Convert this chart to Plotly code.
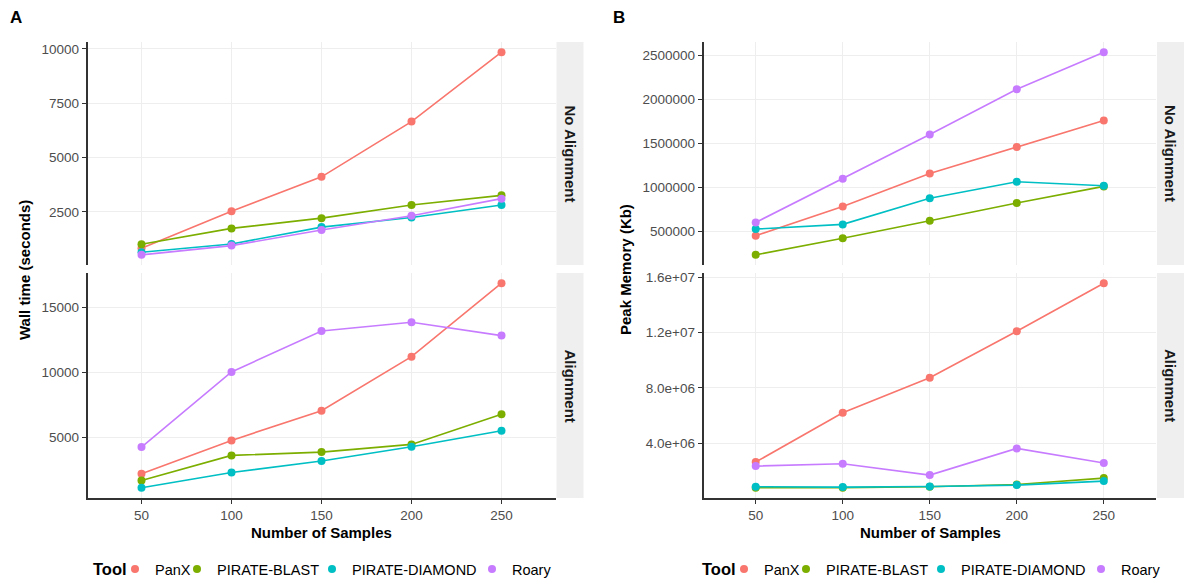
import plotly.graph_objects as go

W, H = 1184, 581

samples = [50, 100, 150, 200, 250]
tools = ["PanX", "PIRATE-BLAST", "PIRATE-DIAMOND", "Roary"]
colors = ["#F8766D", "#7CAE00", "#00BFC4", "#C77CFF"]

# Panel A: wall time (seconds)
time_noaln_panx = [825, 2529, 4112, 6653, 9848]
time_noaln_blast = [1008, 1738, 2210, 2818, 3260]
time_noaln_diamond = [643, 1023, 1799, 2240, 2818]
time_noaln_roary = [521, 947, 1662, 2317, 3108]

time_aln_panx = [2231, 4795, 7077, 11231, 16872]
time_aln_blast = [1718, 3641, 3897, 4487, 6795]
time_aln_diamond = [1154, 2333, 3205, 4308, 5538]
time_aln_roary = [4282, 10051, 13205, 13872, 12846]

# Panel B: peak memory (Kb)
mem_noaln_panx = [455000, 785000, 1160000, 1461000, 1761000]
mem_noaln_blast = [237000, 425000, 624000, 826000, 1014000]
mem_noaln_diamond = [530000, 583000, 879000, 1067000, 1022000]
mem_noaln_roary = [605000, 1100000, 1603000, 2117000, 2538000]

mem_aln_panx = [2619000, 6200000, 8741000, 12104000, 15589000]
mem_aln_blast = [755000, 755000, 828000, 997000, 1457000]
mem_aln_diamond = [828000, 804000, 852000, 949000, 1239000]
mem_aln_roary = [2328000, 2498000, 1675000, 3610000, 2546000]

time_ticks_noaln = [2500, 5000, 7500, 10000]
time_ticks_noaln_text = ["2500", "5000", "7500", "10000"]
time_ticks_aln = [5000, 10000, 15000]
time_ticks_aln_text = ["5000", "10000", "15000"]
mem_ticks_noaln = [500000, 1000000, 1500000, 2000000, 2500000]
mem_ticks_noaln_text = ["500000", "1000000", "1500000", "2000000", "2500000"]
mem_ticks_aln = [4000000, 8000000, 12000000, 16000000]
mem_ticks_aln_text = ["4.0e+06", "8.0e+06", "1.2e+07", "1.6e+07"]

FONT = "Liberation Sans, Arial, sans-serif"
AXC = "#333333"
GRID = "#EEEEEE"
TICKC = "#4D4D4D"


def px(x):
    return x / W


def py(y):
    return 1 - y / H


def erange(series):
    lo = min(min(s) for s in series)
    hi = max(max(s) for s in series)
    span = hi - lo
    return [lo - 0.05 * span, hi + 0.05 * span]


fig = go.Figure()

panels = [
    ("x3", "y", [time_noaln_panx, time_noaln_blast, time_noaln_diamond, time_noaln_roary]),
    ("x", "y2", [time_aln_panx, time_aln_blast, time_aln_diamond, time_aln_roary]),
    ("x4", "y3", [mem_noaln_panx, mem_noaln_blast, mem_noaln_diamond, mem_noaln_roary]),
    ("x2", "y4", [mem_aln_panx, mem_aln_blast, mem_aln_diamond, mem_aln_roary]),
]

for xa, ya, series in panels:
    for name, col, vals in zip(tools, colors, series):
        fig.add_trace(go.Scatter(
            x=samples, y=vals, xaxis=xa, yaxis=ya, mode="lines+markers",
            line=dict(color=col, width=1.6), marker=dict(color=col, size=8),
            name=name, showlegend=False, hoverinfo="skip"))

# legend entries: one small legend per key so the spacing can follow the original
legend_title_x = [93, 702]
legend_dot_offsets = [46, 108, 243, 403]
LEG_Y = 569
SYM_OFF = 20  # distance from legend left edge to the key dot centre

legend_layouts = {}
k = 0
for panel_i, tx in enumerate(legend_title_x):
    for name, col, off in zip(tools, colors, legend_dot_offsets):
        k += 1
        lname = "legend" if k == 1 else "legend%d" % k
        fig.add_trace(go.Scatter(
            x=[None], y=[None], mode="markers", marker=dict(color=col, size=8),
            name=name, legend=lname, showlegend=True, xaxis="x", yaxis="y2"))
        legend_layouts[lname] = dict(
            x=px(tx + off - 4 - SYM_OFF), y=py(LEG_Y), xanchor="left", yanchor="middle",
            orientation="h", bgcolor="rgba(0,0,0,0)", itemwidth=30,
            font=dict(family=FONT, size=14.5, color="black"))

xr = [20, 280]
common_x = dict(range=xr, tickvals=samples, showgrid=True, gridcolor=GRID, gridwidth=1,
                zeroline=False)
xfont = dict(family=FONT, size=13.5, color=TICKC)
common_y = dict(showgrid=True, gridcolor=GRID, gridwidth=1, zeroline=False,
                showline=True, linecolor=AXC, linewidth=1.6, ticks="outside",
                ticklen=4, tickcolor=AXC, tickwidth=1.2,
                tickfont=dict(family=FONT, size=13.5, color=TICKC))

ax_A = [px(87.5), px(555.5)]
ax_B = [px(703.5), px(1156)]
top_dom = [py(265), py(42)]
bot_dom = [py(498), py(273)]

fig.update_layout(
    xaxis=dict(domain=ax_A, anchor="y2", showline=True, linecolor=AXC, linewidth=1.6,
               ticks="outside", ticklen=4, tickcolor=AXC, tickwidth=1.2, tickfont=xfont, **common_x),
    xaxis2=dict(domain=ax_B, anchor="y4", showline=True, linecolor=AXC, linewidth=1.6,
                ticks="outside", ticklen=4, tickcolor=AXC, tickwidth=1.2, tickfont=xfont, **common_x),
    xaxis3=dict(domain=ax_A, anchor="y", showticklabels=False, showline=False, ticks="", **common_x),
    xaxis4=dict(domain=ax_B, anchor="y3", showticklabels=False, showline=False, ticks="", **common_x),
    yaxis=dict(domain=top_dom, anchor="x3",
               range=erange([time_noaln_panx, time_noaln_blast, time_noaln_diamond, time_noaln_roary]),
               tickvals=time_ticks_noaln, ticktext=time_ticks_noaln_text, **common_y),
    yaxis2=dict(domain=bot_dom, anchor="x",
                range=erange([time_aln_panx, time_aln_blast, time_aln_diamond, time_aln_roary]),
                tickvals=time_ticks_aln, ticktext=time_ticks_aln_text, **common_y),
    yaxis3=dict(domain=top_dom, anchor="x4",
                range=erange([mem_noaln_panx, mem_noaln_blast, mem_noaln_diamond, mem_noaln_roary]),
                tickvals=mem_ticks_noaln, ticktext=mem_ticks_noaln_text, **common_y),
    yaxis4=dict(domain=bot_dom, anchor="x2",
                range=erange([mem_aln_panx, mem_aln_blast, mem_aln_diamond, mem_aln_roary]),
                tickvals=mem_ticks_aln, ticktext=mem_ticks_aln_text, **common_y),
)

shapes = []
annotations = []
strips = [
    (556.5, 583.5, 42, 265, "No Alignment"),
    (556.5, 583.5, 273, 498, "Alignment"),
    (1157, 1184, 42, 265, "No Alignment"),
    (1157, 1184, 273, 498, "Alignment"),
]
for x0, x1, y0, y1, label in strips:
    shapes.append(dict(type="rect", xref="paper", yref="paper", x0=px(x0), x1=px(x1),
                       y0=py(y1), y1=py(y0), fillcolor="#EFEFEF", line=dict(width=0), layer="below"))
    annotations.append(dict(xref="paper", yref="paper", x=px((x0 + x1) / 2), y=py((y0 + y1) / 2),
                            text="<b>%s</b>" % label, textangle=90, showarrow=False,
                            font=dict(family=FONT, size=15, color="#1A1A1A"),
                            xanchor="center", yanchor="middle"))

for txt, x, y in [("A", 16, 18), ("B", 619, 18)]:
    annotations.append(dict(xref="paper", yref="paper", x=px(x), y=py(y), text="<b>%s</b>" % txt,
                            showarrow=False, font=dict(family=FONT, size=17, color="black"),
                            xanchor="center", yanchor="middle"))

for txt, x in [("Wall time (seconds)", 24), ("Peak Memory (Kb)", 625)]:
    annotations.append(dict(xref="paper", yref="paper", x=px(x), y=py(270), text="<b>%s</b>" % txt,
                            textangle=-90, showarrow=False,
                            font=dict(family=FONT, size=15, color="black"),
                            xanchor="center", yanchor="middle"))

for x in [321.5, 930]:
    annotations.append(dict(xref="paper", yref="paper", x=px(x), y=py(532),
                            text="<b>Number of Samples</b>", showarrow=False,
                            font=dict(family=FONT, size=15, color="black"),
                            xanchor="center", yanchor="middle"))

for tx in legend_title_x:
    annotations.append(dict(xref="paper", yref="paper", x=px(tx), y=py(LEG_Y),
                            text="<b>Tool</b>", showarrow=False,
                            font=dict(family=FONT, size=16.5, color="black"),
                            xanchor="left", yanchor="middle", xshift=-2))

fig.update_layout(
    width=W, height=H, margin=dict(l=0, r=0, t=0, b=0, autoexpand=False),
    paper_bgcolor="white", plot_bgcolor="white",
    shapes=shapes, annotations=annotations,
    font=dict(family=FONT),
    **legend_layouts,
)

fig.write_html("out.html", config={"displayModeBar": False},
               post_script="document.body.style.margin='0';document.body.style.overflow='hidden';")
